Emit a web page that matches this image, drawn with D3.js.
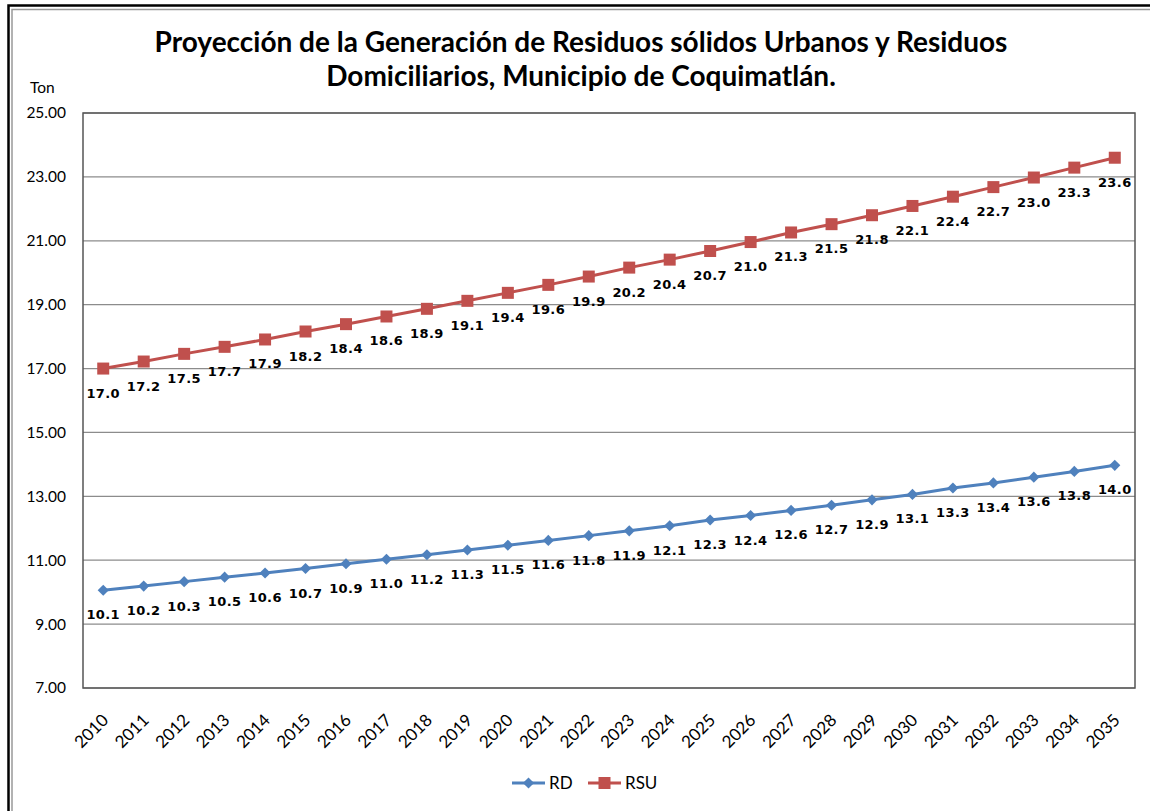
<!DOCTYPE html>
<html>
<head>
<meta charset="utf-8">
<script src="https://cdn.jsdelivr.net/npm/d3@7"></script>
<style>
  html, body { margin: 0; padding: 0; background: #fff; }
  svg { display: block; }
</style>
</head>
<body>
<svg id="chart" width="1150" height="811"></svg>
<script>
// data
var years = ["2010","2011","2012","2013","2014","2015","2016","2017","2018","2019","2020","2021","2022",
             "2023","2024","2025","2026","2027","2028","2029","2030","2031","2032","2033","2034","2035"];
var rd = [10.06, 10.19, 10.33, 10.47, 10.60, 10.74, 10.89, 11.03, 11.17, 11.32, 11.47, 11.62, 11.77,
          11.92, 12.08, 12.26, 12.40, 12.56, 12.72, 12.89, 13.06, 13.26, 13.42, 13.60, 13.78, 13.97];
var rsu = [17.00, 17.22, 17.46, 17.68, 17.91, 18.16, 18.39, 18.63, 18.87, 19.12, 19.37, 19.62, 19.88,
           20.16, 20.41, 20.68, 20.96, 21.26, 21.52, 21.80, 22.09, 22.38, 22.68, 22.98, 23.29, 23.60];
var yTicks = [7, 9, 11, 13, 15, 17, 19, 21, 23, 25];
var seriesNames = ["RD", "RSU"];
var seriesColors = ["#4F81BD", "#C0504D"];

var width = 1150, height = 811;
var margin = { top: 113, right: 15, bottom: 123, left: 83 };
var font = "Lato, 'Open Sans', sans-serif";

var svg = d3.select("#chart");

// outer frame (double line)
svg.append("rect").attr("x", 8.5).attr("y", 5.5).attr("width", 1160).attr("height", 830)
  .attr("fill", "none").attr("stroke", "#000").attr("stroke-width", 2.5);
svg.append("rect").attr("x", 12).attr("y", 9.5).attr("width", 1160).attr("height", 830)
  .attr("fill", "none").attr("stroke", "#999").attr("stroke-width", 1.5);

var x = d3.scaleBand()
  .domain(years)
  .range([margin.left, width - margin.right]);

var y = d3.scaleLinear()
  .domain([7, 25])
  .range([height - margin.bottom, margin.top]);

var cx = function (d, i) { return x(years[i]) + x.bandwidth() / 2; };

// gridlines
svg.append("g")
  .selectAll("line")
  .data(yTicks)
  .join("line")
  .attr("x1", margin.left).attr("x2", width - margin.right)
  .attr("y1", function (d) { return y(d); }).attr("y2", function (d) { return y(d); })
  .attr("stroke", "#8c8c8c").attr("stroke-width", 1.2);

// plot border
svg.append("rect")
  .attr("x", margin.left).attr("y", margin.top)
  .attr("width", width - margin.right - margin.left)
  .attr("height", height - margin.bottom - margin.top)
  .attr("fill", "none").attr("stroke", "#555").attr("stroke-width", 1.5);

// y axis labels
var yAxis = d3.axisLeft(y).tickValues(yTicks).tickFormat(d3.format(".2f")).tickSize(0).tickPadding(17);
svg.append("g")
  .attr("transform", "translate(" + margin.left + ",0)")
  .call(yAxis)
  .call(function (g) { g.select(".domain").remove(); })
  .call(function (g) {
    g.selectAll("text").attr("font-family", font)
      .attr("font-size", "15.5px").attr("fill", "#000");
  });

svg.append("text")
  .attr("x", 30).attr("y", 93)
  .attr("font-family", font).attr("font-size", "15.5px")
  .text("Ton");

// x axis labels
var xAxis = d3.axisBottom(x).tickSize(0).tickPadding(0);
svg.append("g")
  .attr("transform", "translate(0," + (height - margin.bottom) + ")")
  .call(xAxis)
  .call(function (g) { g.select(".domain").remove(); })
  .call(function (g) {
    g.selectAll("text")
      .attr("font-family", font)
      .attr("font-size", "17px").attr("fill", "#000")
      .attr("text-anchor", "end")
      .attr("dy", "0.35em")
      .attr("transform", "translate(2,29) rotate(-45)");
  });

// markers
var diamond = d3.symbol(d3.symbolSquare, 62);

// series
var allSeries = [rd, rsu];
var line = d3.line().x(cx).y(function (d) { return y(d); });

allSeries.forEach(function (vals, s) {
  var g = svg.append("g");
  g.append("path").datum(vals)
    .attr("d", line)
    .attr("fill", "none")
    .attr("stroke", seriesColors[s])
    .attr("stroke-width", 3);

  if (s === 0) {
    g.selectAll("path.m").data(vals).join("path")
      .attr("class", "m")
      .attr("d", diamond)
      .attr("transform", function (d, i) { return "translate(" + cx(d, i) + "," + y(d) + ") rotate(45)"; })
      .attr("fill", seriesColors[s]);
  } else {
    g.selectAll("rect.m").data(vals).join("rect")
      .attr("class", "m")
      .attr("x", function (d, i) { return cx(d, i) - 6; })
      .attr("y", function (d) { return y(d) - 6; })
      .attr("width", 12).attr("height", 12)
      .attr("fill", seriesColors[s]);
  }

  g.selectAll("text").data(vals).join("text")
    .attr("x", cx)
    .attr("y", function (d) { return y(d) + 29; })
    .attr("text-anchor", "middle")
    .attr("font-family", "'DejaVu Sans', Verdana, sans-serif")
    .attr("font-weight", "bold")
    .attr("font-size", "13px")
    .attr("letter-spacing", "0.4px")
    .text(function (d) { return d3.format(".1f")(d); });
});

// title
var title = svg.append("text")
  .attr("text-anchor", "middle")
  .attr("font-family", font)
  .attr("font-weight", "bold")
  .attr("font-size", "28px");
title.append("tspan").attr("x", 581).attr("y", 52)
  .text("Proyección de la Generación de Residuos sólidos Urbanos y Residuos");
title.append("tspan").attr("x", 581).attr("y", 86)
  .text("Domiciliarios, Municipio de Coquimatlán.");

// legend
var legend = svg.append("g").attr("transform", "translate(512,783)");
seriesNames.forEach(function (name, i) {
  var lg = legend.append("g").attr("transform", "translate(" + (i * 76) + ",0)");
  lg.append("line").attr("x1", 0).attr("x2", 33).attr("y1", 0).attr("y2", 0)
    .attr("stroke", seriesColors[i]).attr("stroke-width", 3);
  if (i === 0) {
    lg.append("path").attr("d", diamond).attr("transform", "translate(16.5,0) rotate(45)")
      .attr("fill", seriesColors[i]);
  } else {
    lg.append("rect").attr("x", 10.5).attr("y", -6).attr("width", 12).attr("height", 12)
      .attr("fill", seriesColors[i]);
  }
  lg.append("text").attr("x", 37).attr("y", 0).attr("dy", "0.35em")
    .attr("font-family", font).attr("font-size", "17px")
    .text(name);
});
</script>
</body>
</html>
